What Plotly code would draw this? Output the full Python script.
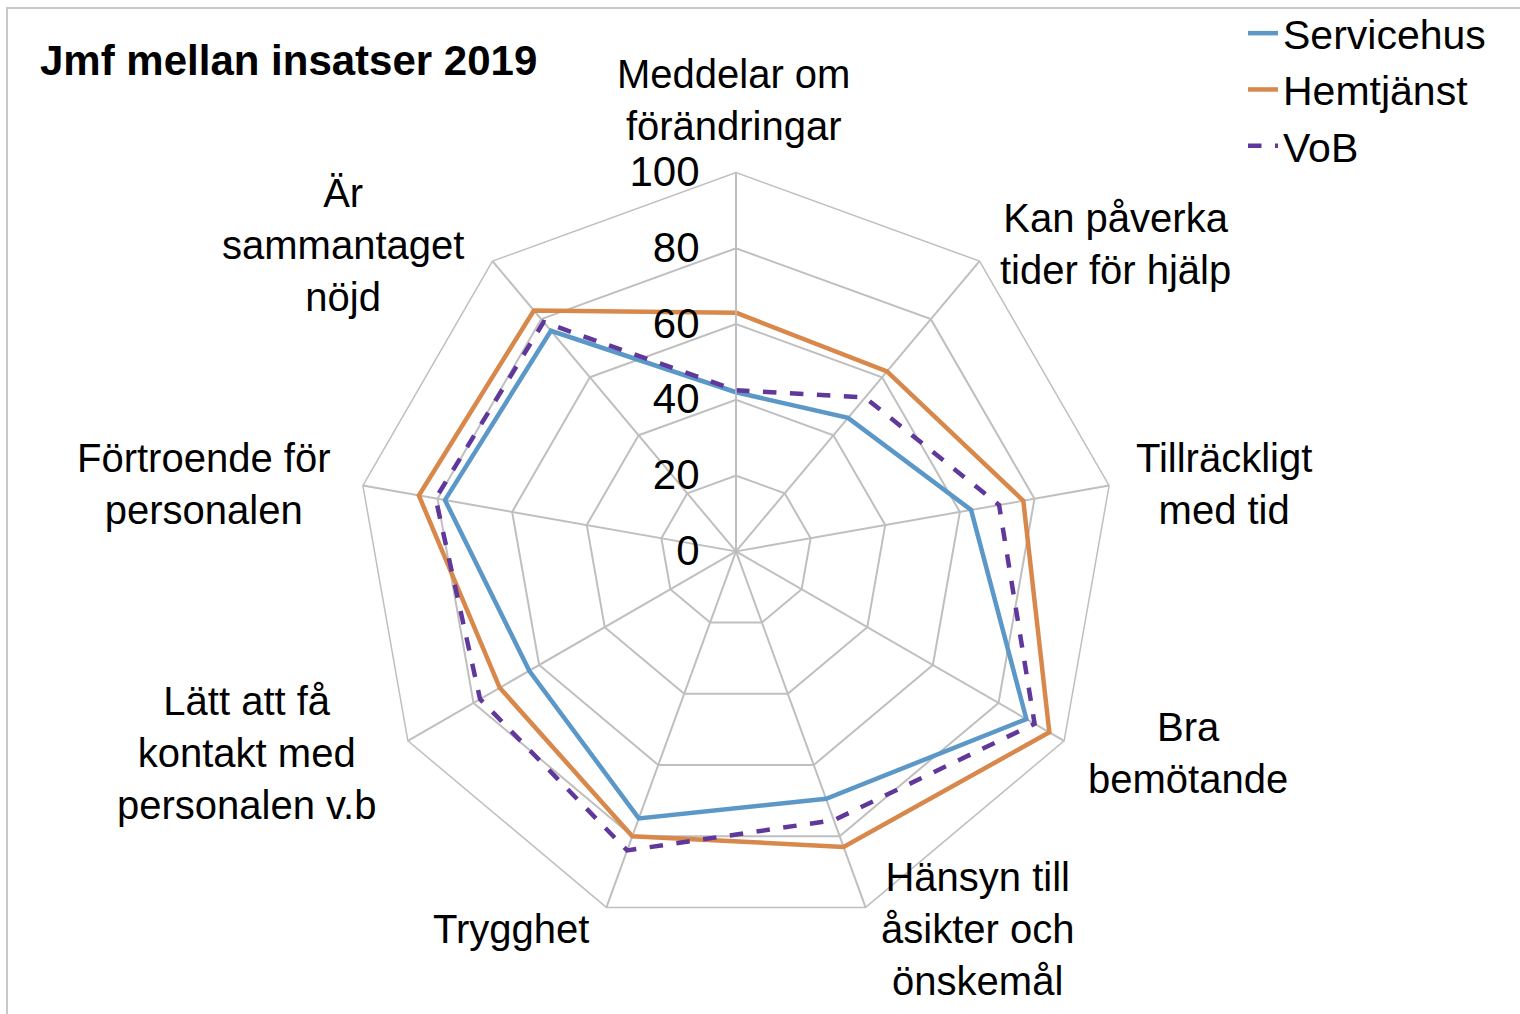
import plotly.graph_objects as go

categories = [
    "Meddelar om förändringar",
    "Kan påverka tider för hjälp",
    "Tillräckligt med tid",
    "Bra bemötande",
    "Hänsyn till åsikter och önskemål",
    "Trygghet",
    "Lätt att få kontakt med personalen v.b",
    "Förtroende för personalen",
    "Är sammantaget nöjd",
]
category_labels = [
    "Meddelar om<br>förändringar",
    "Kan påverka<br>tider för hjälp",
    "Tillräckligt<br>med tid",
    "Bra<br>bemötande",
    "Hänsyn till<br>åsikter och<br>önskemål",
    "Trygghet",
    "Lätt att få<br>kontakt med<br>personalen v.b",
    "Förtroende för<br>personalen",
    "Är<br>sammantaget<br>nöjd",
]
servicehus = [42, 46, 63, 88.5, 69.5, 75, 63, 78, 76]
hemtjanst = [63, 62, 77, 95.5, 83, 80, 72, 85, 83]
vob = [42.5, 53, 70.5, 91, 75.5, 84, 78, 80.5, 79]
radial_ticks = [0, 20, 40, 60, 80, 100]

W, H = 1520, 1014
cx, cy, R = 736, 550, 380
FONT = "Liberation Sans, Arial, sans-serif"
# pixel centres of the category label blocks (layout only)
label_pos = [(733, 97), (1115, 242), (1224, 482), (1188, 752), (977, 929),
             (511, 929), (246, 752), (203, 482), (343, 243)]

def closed(v):
    return list(v) + [v[0]]

fig = go.Figure()
series = [
    ("Servicehus", servicehus, "#5B98C8", "solid"),
    ("Hemtjänst", hemtjanst, "#D8884A", "solid"),
    ("VoB", vob, "#60379A", "dash"),
]
for name, vals, col, dash in series:
    fig.add_trace(go.Scatterpolar(
        r=closed(vals), theta=closed(categories), name=name, mode="lines",
        line=dict(color=col, width=4.5, dash=dash),
    ))

annotations = []
for text, (px, py) in zip(category_labels, label_pos):
    annotations.append(dict(
        text=text, x=px / W, y=1 - py / H, xref="paper", yref="paper",
        xanchor="center", yanchor="middle", align="center", showarrow=False,
        font=dict(size=40, color="#000000", family=FONT),
    ))

fig.update_layout(
    width=W, height=H,
    margin=dict(l=0, r=0, t=0, b=0),
    paper_bgcolor="white",
    font=dict(family=FONT, size=40, color="#000000"),
    polar=dict(
        domain=dict(x=[(cx - R) / W, (cx + R) / W], y=[(H - cy - R) / H, (H - cy + R) / H]),
        bgcolor="white",
        gridshape="linear",
        radialaxis=dict(
            range=[0, 100], tickvals=radial_ticks, angle=90, side="counterclockwise",
            showline=True, linecolor="#BFBFBF", linewidth=1.5, gridcolor="#BFBFBF", gridwidth=1.5,
            ticks="outside", ticklen=21, tickcolor="rgba(0,0,0,0)",
            tickfont=dict(size=42, color="#000000"), tickangle=90,
        ),
        angularaxis=dict(
            rotation=90, direction="clockwise", linecolor="#BFBFBF", linewidth=1.5,
            gridcolor="#BFBFBF", gridwidth=1.5, ticks="", showticklabels=False,
        ),
    ),
    title=dict(text="<b>Jmf mellan insatser 2019</b>", x=40 / W, xanchor="left",
               y=1 - 60 / H, yanchor="middle", font=dict(size=42, color="#000000")),
    legend=dict(x=1243 / W, y=1.0 + 3 / H, xanchor="left", yanchor="top",
                font=dict(size=41), bgcolor="rgba(0,0,0,0)", tracegroupgap=0),
    annotations=annotations,
    shapes=[dict(type="rect", xref="paper", yref="paper", x0=7 / W, x1=1.02, y0=-0.02, y1=1 - 5 / H,
                 line=dict(color="#C8C8C8", width=2), fillcolor="rgba(0,0,0,0)", layer="below")],
)

fig.write_html("out.html", config={"displayModeBar": False},
               post_script="document.body.style.margin='0';")
